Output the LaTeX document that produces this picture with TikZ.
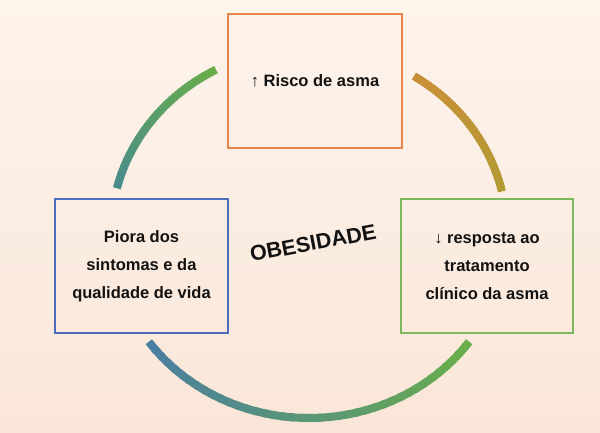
\documentclass[tikz,border=0pt]{standalone}
\usepackage{fontspec}
\setmainfont{Liberation Sans}
\usepackage{tikz}

\definecolor{bgtop}{HTML}{FDF4EC}
\definecolor{bgbottom}{HTML}{FAE6D8}
\definecolor{boxorange}{HTML}{E8844C}
\definecolor{boxblue}{HTML}{4A6EBE}
\definecolor{boxgreen}{HTML}{7DB85C}
\definecolor{arcgreen}{HTML}{69AE4B}
\definecolor{arcteal}{HTML}{4A8C8C}
\definecolor{arcblue}{HTML}{4A7EA2}
\definecolor{arcgold}{HTML}{C98F38}
\definecolor{arcolive}{HTML}{B29A33}

\tikzset{
  factor/.style={draw, line width=2.5pt, minimum width=173pt, minimum height=134pt,
    align=center, text=black!93, font=\fontsize{16.5}{28}\selectfont\bfseries},
  arcline/.style={line width=8pt, line cap=butt}
}

\begin{document}
\begin{tikzpicture}[x=1pt,y=1pt]

% Background
\useasboundingbox (0,0) rectangle (600,433);
\shade[top color=bgtop, bottom color=bgbottom] (0,0) rectangle (600,433);

% Define centres
\coordinate (O) at (309,200);
\coordinate (T) at (315,352);
\coordinate (L) at (141.5,167);
\coordinate (R) at (487,167);

% Draw the cycle arcs (colour changes along each arc)
\foreach \ta/\tb/\ca/\cb in {118/166/arcgreen/arcteal, 13/58/arcolive/arcgold, 216/324/arcblue/arcgreen} {
  \foreach \i in {0,...,39} {
    \pgfmathsetmacro\a{\ta+(\tb-\ta)*\i/40}
    \pgfmathsetmacro\b{min(\ta+(\tb-\ta)*(\i+1.4)/40,\tb)}
    \pgfmathtruncatemacro\p{100-\i*100/39}
    \draw[arcline, color=\ca!\p!\cb] ({309+198*cos(\a)},{200+185*sin(\a)})
      arc[start angle=\a, end angle=\b, x radius=198, y radius=185];
  }
}

% Boxes
\node[factor, draw=boxorange, minimum width=174pt] (risco) at (T) {↑ Risco de asma};
\node[factor, draw=boxblue] (piora) at (L) {Piora dos\\sintomas e da\\qualidade de vida};
\node[factor, draw=boxgreen, minimum width=172pt] (resposta) at (R) {↓ resposta ao\\tratamento\\clínico da asma};

% Centre label
\node[rotate=10.5, font=\fontsize{21.5}{24}\selectfont\bfseries, text=black!93] (obesidade) at (313,190) {OBESIDADE};

\end{tikzpicture}
\end{document}
